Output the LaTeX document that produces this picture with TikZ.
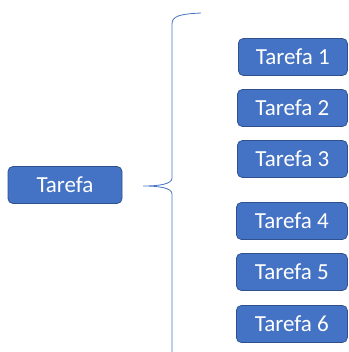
\documentclass[tikz,border=0pt]{standalone}
\usepackage{fontspec}
\setmainfont{Carlito}
\usepackage{tikz}
\usetikzlibrary{positioning}

\definecolor{taskblue}{HTML}{4472C4}
\definecolor{taskedge}{HTML}{2F528F}

\tikzset{
    taskbox/.style={rectangle, rounded corners=5pt, draw=taskedge, line width=0.8pt,
        fill=taskblue, text=white, font=\fontsize{23}{25}\selectfont,
        minimum height=37pt, inner sep=0pt},
    brace/.style={draw=taskblue, line width=0.8pt}
}

\begin{document}
\begin{tikzpicture}[x=1pt, y=-1pt]
    \useasboundingbox (0,0) rectangle (348,352);

    % main task on the left
    \node[taskbox, minimum width=114pt] (tarefa) at (65,185) {Tarefa};

    % sub tasks, cut by the right edge
    \foreach \i/\y/\x in {1/57/238, 2/108/237, 3/159/237, 4/221/236, 5/272/236, 6/324/236}
    \node[taskbox, minimum width=347pt-\x pt, anchor=west] (t\i) at (\x,\y) {Tarefa \i};

    % curly brace -- tip points back at the main task
    \coordinate (top) at (201,13);
    \coordinate (tip) at (143,186);
    \coordinate (bot) at (172,360);
    \draw[brace] (top) .. controls (180,14) and (172,16) .. (172,24)
        -- (172,178) .. controls (172,184) and (160,186) .. (tip)
        .. controls (160,186) and (172,188) .. (172,194) -- (bot);
\end{tikzpicture}
\end{document}
